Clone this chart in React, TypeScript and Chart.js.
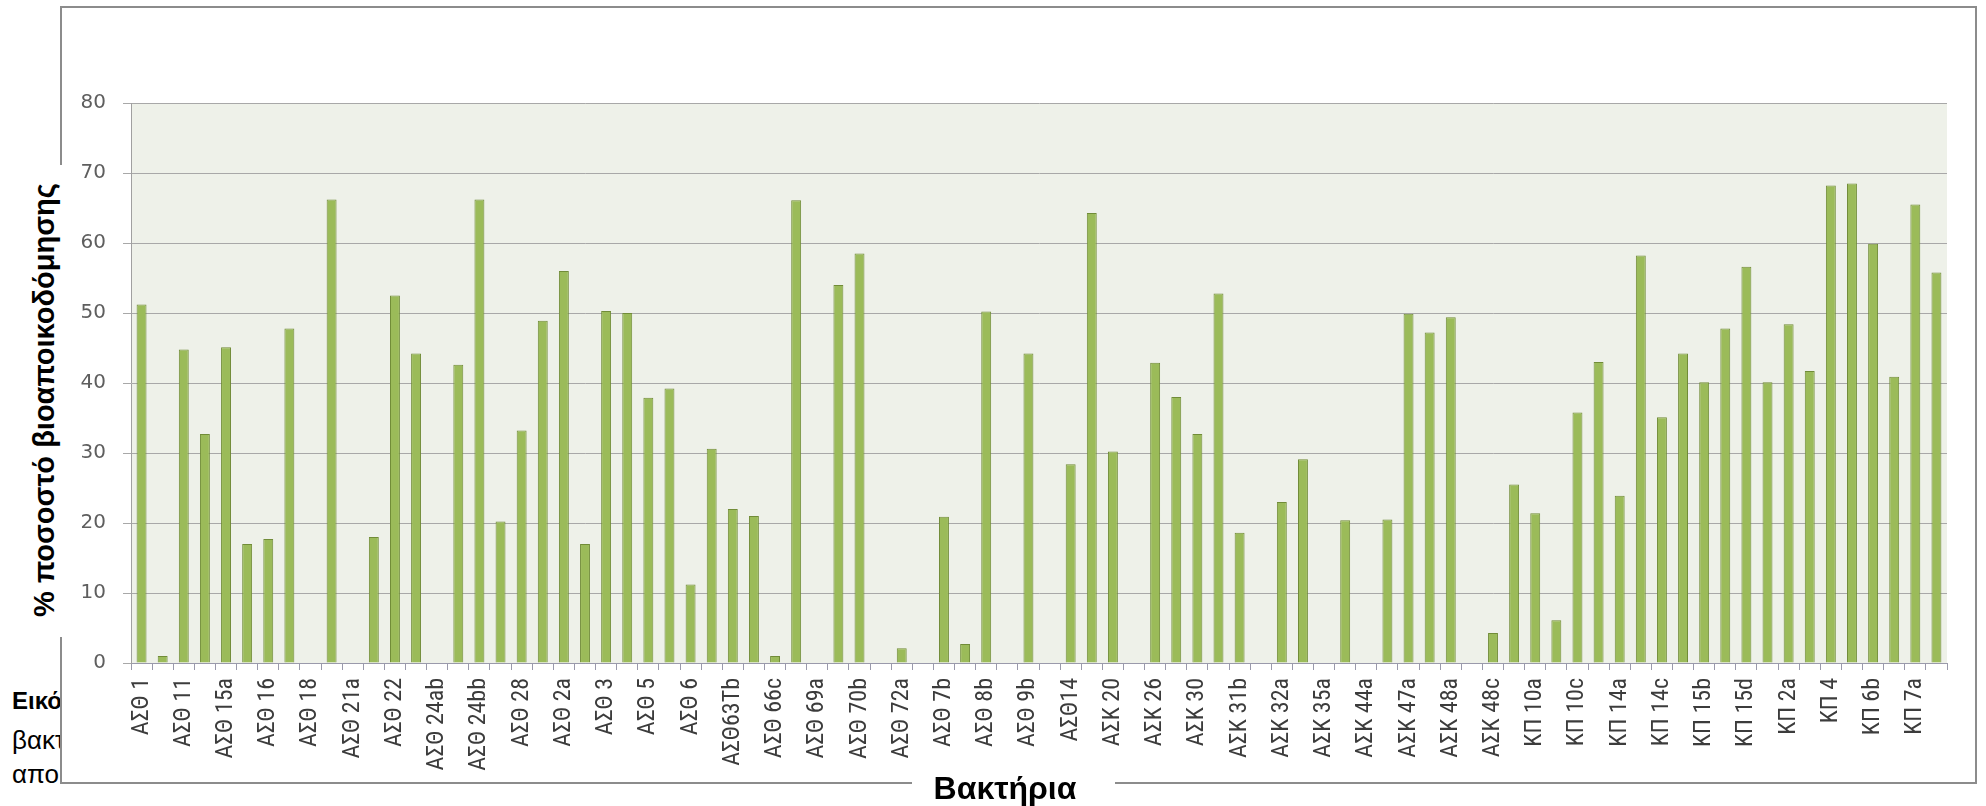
import React, { useEffect, useRef } from "react";
import { Chart, registerables } from "chart.js";

Chart.register(...registerables);

// Bacterial isolates (every second name is printed on the axis)
const strains: string[] = [
  "ΑΣΘ 1", "ΑΣΘ 10", "ΑΣΘ 11", "ΑΣΘ 12", "ΑΣΘ 15a", "ΑΣΘ 15b", "ΑΣΘ 16", "ΑΣΘ 17",
  "ΑΣΘ 18", "ΑΣΘ 20", "ΑΣΘ 21a", "ΑΣΘ 21b", "ΑΣΘ 22", "ΑΣΘ 24aa", "ΑΣΘ 24ab", "ΑΣΘ 24ba",
  "ΑΣΘ 24bb", "ΑΣΘ 26", "ΑΣΘ 28", "ΑΣΘ 29", "ΑΣΘ 2a", "ΑΣΘ 2b", "ΑΣΘ 3", "ΑΣΘ 4",
  "ΑΣΘ 5", "ΑΣΘ 5b", "ΑΣΘ 6", "ΑΣΘ 63Ta", "ΑΣΘ63Tb", "ΑΣΘ 66a", "ΑΣΘ 66c", "ΑΣΘ 69",
  "ΑΣΘ 69a", "ΑΣΘ 70a", "ΑΣΘ 70b", "ΑΣΘ 72", "ΑΣΘ 72a", "ΑΣΘ 7a", "ΑΣΘ 7b", "ΑΣΘ 8a",
  "ΑΣΘ 8b", "ΑΣΘ 9a", "ΑΣΘ 9b", "ΑΣΘ 9c", "ΑΣΘ14", "ΑΣΚ 1", "ΑΣΚ 20", "ΑΣΚ 23",
  "ΑΣΚ 26", "ΑΣΚ 29", "ΑΣΚ 30", "ΑΣΚ 31a", "ΑΣΚ 31b", "ΑΣΚ 32", "ΑΣΚ 32a", "ΑΣΚ 33",
  "ΑΣΚ 35a", "ΑΣΚ 40", "ΑΣΚ 44a", "ΑΣΚ 45", "ΑΣΚ 47a", "ΑΣΚ 47b", "ΑΣΚ 48a", "ΑΣΚ 48b",
  "ΑΣΚ 48c", "ΚΠ 1", "ΚΠ 10a", "ΚΠ 10b", "ΚΠ 10c", "ΚΠ 12", "ΚΠ 14a", "ΚΠ 14b",
  "ΚΠ 14c", "ΚΠ 15a", "ΚΠ 15b", "ΚΠ 15c", "ΚΠ 15d", "ΚΠ 16", "ΚΠ 2a", "ΚΠ 3",
  "ΚΠ 4", "ΚΠ 6a", "ΚΠ 6b", "ΚΠ 6c", "ΚΠ 7a", "ΚΠ 7b",
];

// % biodegradation per isolate
const biodegradation: number[] = [
  51.2, 1.0, 44.8, 32.7, 45.1, 17.0, 17.7, 47.8, 0, 66.2,
  0, 18.0, 52.5, 44.2, 0, 42.6, 66.2, 20.2, 33.2, 48.9,
  56.0, 17.0, 50.3, 50.0, 37.9, 39.2, 11.2, 30.6, 22.0, 21.0,
  1.0, 66.1, 0, 54.0, 58.5, 0, 2.1, 0, 20.9, 2.7,
  50.2, 0, 44.2, 0, 28.4, 64.3, 30.2, 0, 42.9, 38.0,
  32.7, 52.8, 18.6, 0, 23.0, 29.1, 0, 20.4, 0, 20.5,
  49.9, 47.2, 49.4, 0, 4.3, 25.5, 21.4, 6.1, 35.8, 43.0,
  23.9, 58.2, 35.1, 44.2, 40.1, 47.8, 56.6, 40.1, 48.4, 41.7,
  68.2, 68.5, 59.9, 40.9, 65.5, 55.8,
];

const yTicks: number[] = [0, 10, 20, 30, 40, 50, 60, 70, 80];

const yTitle = "% ποσοστό βιοαποικοδόμησης";
const xTitle = "Βακτήρια";
const pageLines: string[] = ["Εικόνα", "βακτήρια", "αποικοδόμησης"];

const W = 1986;
const H = 806;

const plotBackground = {
  id: "plotBackground",
  beforeDraw(chart: any) {
    const { ctx, chartArea } = chart;
    ctx.save();
    ctx.fillStyle = "#eef1e9";
    ctx.fillRect(chartArea.left, chartArea.top, chartArea.right - chartArea.left, chartArea.bottom - chartArea.top);
    ctx.restore();
  },
};

function BarChart() {
  const ref = useRef<HTMLCanvasElement | null>(null);

  useEffect(() => {
    if (!ref.current) return;
    const chart = new Chart(ref.current, {
      type: "bar",
      data: {
        labels: strains,
        datasets: [
          {
            data: biodegradation,
            backgroundColor: "#9bbb59",
            borderColor: "#718c38",
            borderWidth: 1,
            barPercentage: 0.47,
            categoryPercentage: 1.0,
          },
        ],
      },
      options: {
        responsive: false,
        animation: false,
        devicePixelRatio: 1,
        layout: { padding: { left: 0, top: 103, right: 39, bottom: 0 } },
        plugins: {
          legend: { display: false },
          tooltip: { enabled: false },
          title: { display: false },
        },
        scales: {
          x: {
            afterFit(scale: any) {
              scale.height = H - 663;
            },
            grid: {
              display: true,
              drawOnChartArea: false,
              drawTicks: true,
              tickLength: 7,
              color: "#9a9aab",
              offset: true,
            },
            border: { display: true, color: "#9a9aab", width: 1 },
            ticks: {
              autoSkip: false,
              minRotation: 90,
              maxRotation: 90,
              padding: 8,
              color: "#3c3c3c",
              font: { family: "'Liberation Sans Narrow', 'Roboto Condensed', Roboto, sans-serif", size: 24 },
              callback: (_v: any, i: number) => (i % 2 === 0 ? strains[i] : ""),
            },
          },
          y: {
            min: yTicks[0],
            max: yTicks[yTicks.length - 1],
            afterFit(scale: any) {
              scale.width = 131;
            },
            afterBuildTicks(scale: any) {
              scale.ticks = yTicks.map((v) => ({ value: v }));
            },
            grid: {
              color: "#a8a8a8",
              lineWidth: 1,
              drawTicks: true,
              tickLength: 8,
            },
            border: { display: true, color: "#a0a0a0", width: 1 },
            ticks: {
              padding: 17,
              color: "#5e5e5e",
              font: { family: "'DejaVu Sans', Verdana, sans-serif", size: 20 },
            },
          },
        },
      },
      plugins: [plotBackground],
    });
    return () => chart.destroy();
  }, []);

  return (
    <canvas
      ref={ref}
      width={W}
      height={H}
      style={{ position: "absolute", left: 0, top: 0, width: W, height: H, zIndex: 2 }}
    />
  );
}

export default function App() {
  return (
    <div style={{ position: "absolute", left: 0, top: 0, width: W, height: H, overflow: "hidden", background: "#fff" }}>
      {/* surrounding page text, partly covered by the chart frame */}
      <div
        style={{
          position: "absolute",
          left: 0,
          top: 0,
          width: 60,
          height: H,
          overflow: "hidden",
          zIndex: 0,
          fontFamily: "'Liberation Sans', Arial, sans-serif",
          fontSize: 26,
          color: "#000",
        }}
      >
        {pageLines.map((t, i) => (
          <div
            key={t}
            style={{
              position: "absolute",
              left: 12,
              top: [712, 751, 785][i] - 24,
              lineHeight: "26px",
              whiteSpace: "nowrap",
              fontWeight: i === 0 ? 700 : 400,
              fontSize: i === 0 ? 24 : 26,
            }}
          >
            {t}
          </div>
        ))}
      </div>

      {/* chart frame */}
      <div
        style={{
          position: "absolute",
          left: 60,
          top: 6,
          width: 1917,
          height: 778,
          boxSizing: "border-box",
          border: "2px solid #8c8c8c",
          background: "#ffffff",
          zIndex: 1,
        }}
      />

      <BarChart />

      {/* y-axis title */}
      <div
        style={{
          position: "absolute",
          left: 26,
          top: 165,
          width: 44,
          height: 472,
          background: "#ffffff",
          zIndex: 3,
        }}
      >
        <div
          style={{
            position: "absolute",
            left: 18,
            top: 235,
            transform: "translate(-50%, -50%) rotate(-90deg)",
            whiteSpace: "nowrap",
            fontFamily: "'Liberation Sans', Arial, sans-serif",
            fontWeight: 700,
            fontSize: 29,
            lineHeight: "32px",
            color: "#000",
          }}
        >
          {yTitle}
        </div>
      </div>

      {/* x-axis title */}
      <div
        style={{
          position: "absolute",
          left: 912,
          top: 771,
          width: 203,
          height: 35,
          background: "#ffffff",
          zIndex: 3,
        }}
      >
        <div
          style={{
            position: "absolute",
            left: 93,
            top: 0,
            transform: "translateX(-50%)",
            whiteSpace: "nowrap",
            fontFamily: "'Liberation Sans', Arial, sans-serif",
            fontWeight: 700,
            fontSize: 32,
            lineHeight: "34px",
            color: "#000",
          }}
        >
          {xTitle}
        </div>
      </div>
    </div>
  );
}
